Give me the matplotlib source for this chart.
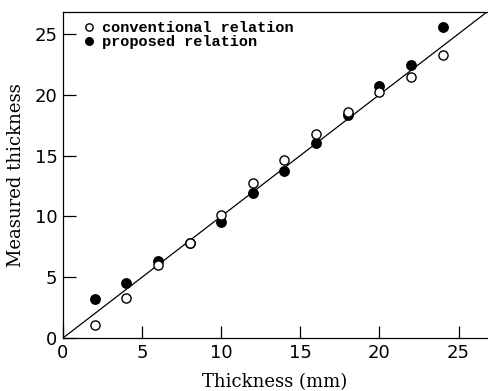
import numpy as np
import matplotlib
matplotlib.use("Agg")
import matplotlib.pyplot as plt

# nominal thickness (mm)
thickness = [2, 4, 6, 8, 10, 12, 14, 16, 18, 20, 22, 24]
# measured values with each relation
conventional = [1.1, 3.3, 6.0, 7.8, 10.15, 12.7, 14.6, 16.75, 18.6, 20.25, 21.45, 23.3]
proposed = [3.2, 4.55, 6.35, 7.8, 9.55, 11.9, 13.7, 16.05, 18.3, 20.7, 22.45, 25.6]

x_ticks = [0, 5, 10, 15, 20, 25]
y_ticks = [0, 5, 10, 15, 20, 25]
lim = 26.8

fig = plt.figure(figsize=(4.88, 3.91), dpi=100)
ax = fig.add_axes([0.129, 0.1355, 0.869, 0.834])

# ideal line
ax.plot([0, lim], [0, lim], color="black", lw=0.9, zorder=1)

ax.plot(thickness, proposed, "o", ms=6.8, mfc="black", mec="black",
        label="proposed relation", zorder=2)
ax.plot(thickness, conventional, "o", ms=6.6, mfc="white", mec="black",
        mew=1.0, label="conventional relation", zorder=3)

ax.set_xlim(0, lim)
ax.set_ylim(0, lim)
ax.set_xticks(x_ticks)
ax.set_yticks(y_ticks)
ax.tick_params(direction="in", length=9, width=0.9, labelsize=13, pad=4)
for lab in ax.get_xticklabels() + ax.get_yticklabels():
    lab.set_family("DejaVu Sans")
ax.spines["right"].set_visible(False)
for s in ("left", "bottom", "top"):
    ax.spines[s].set_linewidth(0.9)

ax.set_xlabel("Thickness (mm)", family="DejaVu Serif", fontsize=13, labelpad=8)
ax.set_ylabel("Measured thickness", family="DejaVu Serif", fontsize=13, labelpad=7)

h, l = ax.get_legend_handles_labels()
leg = ax.legend(h[::-1], l[::-1], loc="upper left", bbox_to_anchor=(0.03, 1.0),
                frameon=False, handlelength=0.6, handletextpad=0.5,
                labelspacing=0.0, borderaxespad=0.2, markerscale=0.8,
                prop={"family": "Liberation Mono", "weight": "bold", "size": 11})

fig.savefig("out.png", dpi=100)
